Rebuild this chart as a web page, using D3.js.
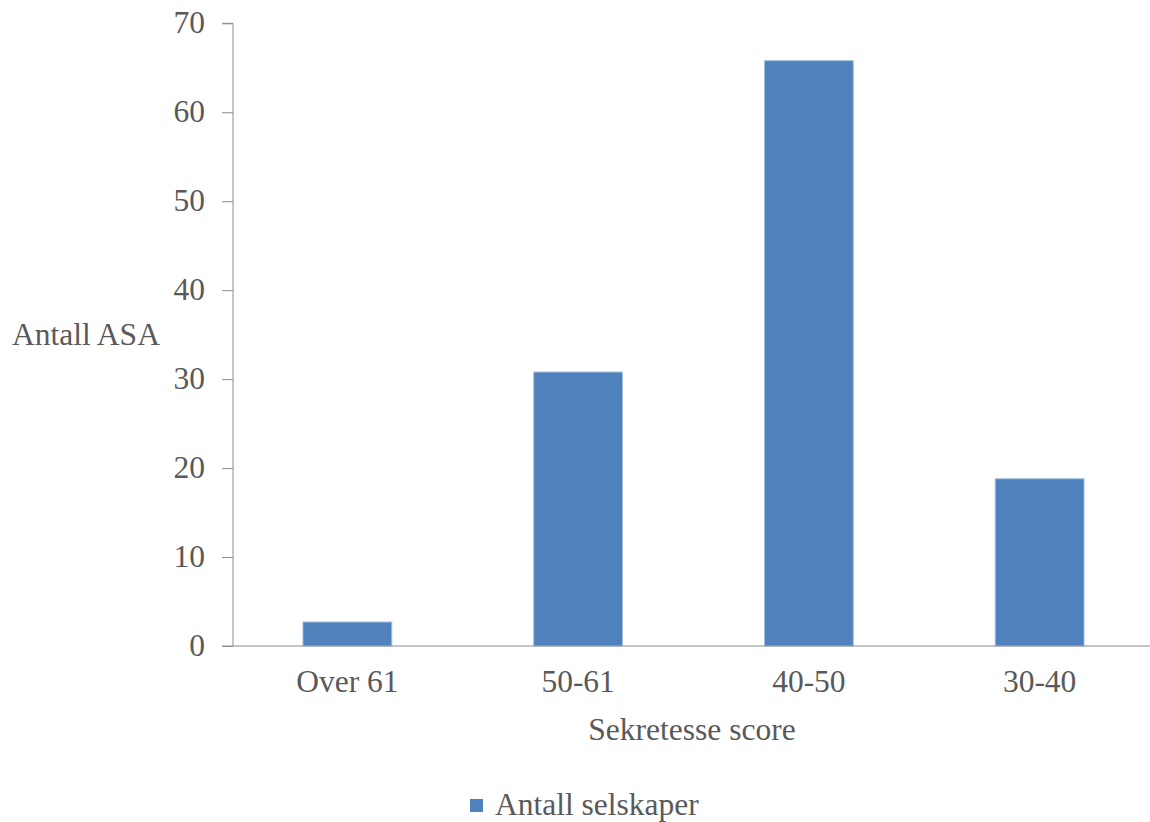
<!DOCTYPE html>
<html><head><meta charset="utf-8">
<script src="https://cdn.jsdelivr.net/npm/d3@7"></script>
<style>body{margin:0;background:#fff}svg{display:block}</style>
</head><body>
<svg id="c" width="1150" height="822"></svg>
<script>
const categories = ["Over 61", "50-61", "40-50", "30-40"];
const values = [2.7, 30.8, 65.8, 18.8];
const yTicks = [0, 10, 20, 30, 40, 50, 60, 70];
const seriesName = "Antall selskaper";
const yTitle = "Antall ASA";
const xTitle = "Sekretesse score";

const svg = d3.select("#c");
const font = "'Liberation Serif', 'Times New Roman', serif";
const textColor = "#595959";
const axisColor = "#8c8c8c";
const barColor = "#4f81bd";
const fs = "31.5px";

const x0 = 233, y0 = 646, yTop = 23.3;
const x = d3.scaleBand().domain(categories).range([232, 232 + 923]).paddingInner(0.615).paddingOuter(0.3075);
const y = d3.scaleLinear().domain([0, 70]).range([y0, yTop]);

// y axis
const yAxis = svg.append("g").attr("transform", `translate(${x0},0)`)
  .call(d3.axisLeft(y).tickValues(yTicks).tickSize(11).tickPadding(17).tickFormat(d3.format("d")));
yAxis.select(".domain").attr("stroke", axisColor).attr("d", `M-11,${yTop}H0V${y0}`);
yAxis.selectAll(".tick line").attr("stroke", axisColor);
yAxis.selectAll(".tick text").attr("fill", textColor).style("font-family", font).style("font-size", fs).attr("dy", "0.3em");

// bars
svg.append("g").selectAll("rect").data(values).join("rect")
  .attr("x", (d, i) => x(categories[i]))
  .attr("width", x.bandwidth())
  .attr("y", d => y(d))
  .attr("height", d => y(0) - y(d))
  .attr("fill", barColor)
  .attr("stroke", "#a7c0de").attr("stroke-width", 1);

// x axis
const xAxis = svg.append("g").attr("transform", `translate(0,${y0})`)
  .call(d3.axisBottom(x).tickSize(0).tickPadding(24));
xAxis.select(".domain").attr("stroke", axisColor).attr("d", `M222,0H1150`);
xAxis.selectAll(".tick text").attr("fill", textColor).style("font-family", font).style("font-size", fs).attr("dy", "0.71em");

// titles
svg.append("text").attr("x", 12).attr("y", 345).attr("fill", textColor)
  .style("font-family", font).style("font-size", fs).text(yTitle);
svg.append("text").attr("x", 692).attr("y", 740).attr("text-anchor", "middle").attr("fill", textColor)
  .style("font-family", font).style("font-size", fs).text(xTitle);

// legend
svg.append("rect").attr("x", 470).attr("y", 799).attr("width", 13).attr("height", 13).attr("fill", barColor);
svg.append("text").attr("x", 495).attr("y", 815).attr("fill", textColor)
  .style("font-family", font).style("font-size", fs).text(seriesName);
</script>
</body></html>
